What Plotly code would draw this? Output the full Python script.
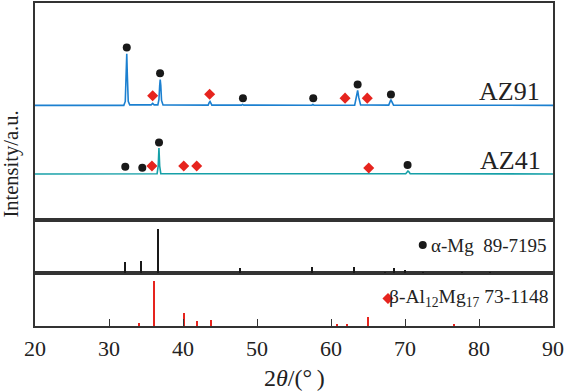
import plotly.graph_objects as go

# ---- data (2theta in degrees, intensities in arbitrary units) ----
az91_x = [20, 32.0, 32.2, 32.32, 32.4, 32.48, 32.6, 32.8, 35.7, 35.9, 36.1, 36.6, 36.75, 36.85, 36.92, 37.0, 37.1, 37.3,
          43.4, 43.55, 43.65, 43.75, 43.9, 47.9, 48.05, 48.2, 57.4, 57.55, 57.7, 63.2, 63.45, 63.6, 63.75, 64.0,
          67.8, 68.0, 68.1, 68.2, 68.45, 90]
az91_y = [0, 0, 4, 30, 52, 30, 4, 0.5, 0.5, 2, 0.5, 0.5, 6, 20, 26, 20, 5, 0.5,
          0.3, 3, 4, 2.5, 0.3, 0.3, 1, 0.3, 0.2, 1, 0.2, 0.3, 8, 15, 8, 0.5,
          0.3, 4, 6, 4, 0.3, 0]
az41_x = [20, 36.5, 36.65, 36.75, 36.85, 37.0, 70.1, 70.3, 70.4, 70.5, 70.7, 90]
az41_y = [0, 0.3, 8, 26, 8, 0.3, 0.3, 2.5, 3, 2.5, 0.3, 0]
az91_offset = 115
az41_offset = 46

# phase markers on the measured patterns
az91_mg_x = [32.4, 36.9, 48.1, 57.6, 63.6, 68.1]
az91_mg_y = [173.3, 147.3, 122.3, 122.3, 136.1, 126.0]
az91_b_x = [35.9, 43.6, 61.9, 64.9]
az91_b_y = [124.7, 126.3, 122.3, 122.3]
az41_mg_x = [32.2, 34.5, 36.76, 70.35]
az41_mg_y = [53.3, 52.3, 77.7, 55.0]
az41_b_x = [35.8, 40.1, 41.85, 65.1]
az41_b_y = [54.0, 54.0, 54.0, 52.0]

# reference patterns (PDF cards)
mg_pos = [32.2, 34.4, 36.6, 47.8, 57.4, 63.1, 67.3, 68.6, 70.0, 72.5, 77.8, 81.5]
mg_int = [11.7, 13, 45, 6, 6.5, 6.5, 1.5, 6, 4, 1.2, 1.2, 1.5]
b_pos = [34.05, 36.17, 40.2, 41.95, 43.8, 60.85, 62.25, 65.0, 76.7]
b_int = [2.5, 45, 13, 4.5, 5.7, 1.5, 1.5, 9, 1.5]

x_ticks = [20, 30, 40, 50, 60, 70, 80, 90]

BLUE = "rgb(28,128,208)"
TEAL = "rgb(22,160,168)"
RED = "rgb(230,36,30)"
BLK = "rgb(25,25,25)"
FONT = "Liberation Serif"

fig = go.Figure()
fig.add_trace(go.Scatter(x=az91_x, y=[v + az91_offset for v in az91_y], mode="lines",
                         line=dict(color=BLUE, width=1.6), xaxis="x3", yaxis="y3"))
fig.add_trace(go.Scatter(x=az41_x, y=[v + az41_offset for v in az41_y], mode="lines",
                         line=dict(color=TEAL, width=1.6), xaxis="x3", yaxis="y3"))
for xs, ys, sym, col, sz in [(az91_mg_x, az91_mg_y, "circle", BLK, 8),
                             (az41_mg_x, az41_mg_y, "circle", BLK, 8),
                             (az91_b_x, az91_b_y, "diamond", RED, 8.5),
                             (az41_b_x, az41_b_y, "diamond", RED, 8.5)]:
    fig.add_trace(go.Scatter(x=xs, y=ys, mode="markers",
                             marker=dict(symbol=sym, color=col, size=sz, line=dict(width=0)),
                             xaxis="x3", yaxis="y3"))

fig.add_trace(go.Bar(x=mg_pos, y=mg_int, width=0.2, marker=dict(color=BLK, line=dict(width=0)),
                     xaxis="x2", yaxis="y2"))
fig.add_trace(go.Bar(x=b_pos, y=b_int, width=0.2, marker=dict(color=RED, line=dict(width=0)),
                     xaxis="x", yaxis="y"))
# legend symbols
fig.add_trace(go.Scatter(x=[72.4], y=[28.5], mode="markers",
                         marker=dict(symbol="circle", color=BLK, size=8), xaxis="x2", yaxis="y2"))
fig.add_trace(go.Scatter(x=[67.7], y=[27.7], mode="markers",
                         marker=dict(symbol="diamond", color=RED, size=8.5), xaxis="x", yaxis="y"))

frame = dict(showline=True, mirror=True, linecolor="#333", linewidth=1.6, showgrid=False, zeroline=False)
xbase = dict(range=[20, 90], **frame)
fig.update_layout(
    width=567, height=392,
    margin=dict(l=35, r=14, t=1, b=66),
    paper_bgcolor="white", plot_bgcolor="white",
    showlegend=False, bargap=0,
    font=dict(family=FONT, color="#222"),
    xaxis=dict(anchor="y", tickvals=x_ticks, ticks="inside", ticklen=7, tickwidth=1.2, tickcolor="#333",
               ticklabelstandoff=2,
               tickfont=dict(size=22, family=FONT, color="#222"), **xbase),
    xaxis2=dict(anchor="y2", matches="x", showticklabels=False, ticks="", **xbase),
    xaxis3=dict(anchor="y3", matches="x", showticklabels=False, ticks="", **xbase),
    yaxis=dict(domain=[0, 0.163], range=[0, 53], showticklabels=False, ticks="", **frame),
    yaxis2=dict(domain=[0.163, 0.329], range=[0, 54], showticklabels=False, ticks="", **frame),
    yaxis3=dict(domain=[0.329, 1], range=[0, 218], showticklabels=False, ticks="", **frame),
)

ann = [
    dict(text="AZ91", x=84.1, y=129, xref="x3", yref="y3", showarrow=False, font=dict(size=26)),
    dict(text="AZ41", x=84.3, y=59.4, xref="x3", yref="y3", showarrow=False, font=dict(size=26)),
    dict(text="α-Mg\u00a0\u00a089-7195", x=89.5, y=28.5, xref="x2", yref="y2", xanchor="right",
         showarrow=False, font=dict(size=19)),
    dict(text="β-Al<sub>12</sub>Mg<sub>17</sub>\u00a073-1148", x=89.6, y=27.7, xref="x", yref="y",
         xanchor="right", showarrow=False, font=dict(size=19.5)),
    dict(text="Intensity/a.u.", x=(11 - 35) / 518, y=0.5, xref="paper", yref="paper", textangle=-90,
         xanchor="center", showarrow=False, font=dict(size=20.5)),
    dict(text="2<i>θ</i>/(°\u2009)", x=0.5, y=(326 - 378) / 325, xref="paper", yref="paper", yanchor="middle",
         showarrow=False, font=dict(size=24)),
]
fig.update_layout(annotations=ann)

fig.write_html("out.html", config={"displayModeBar": False},
               post_script="document.body.style.margin='0px';")
